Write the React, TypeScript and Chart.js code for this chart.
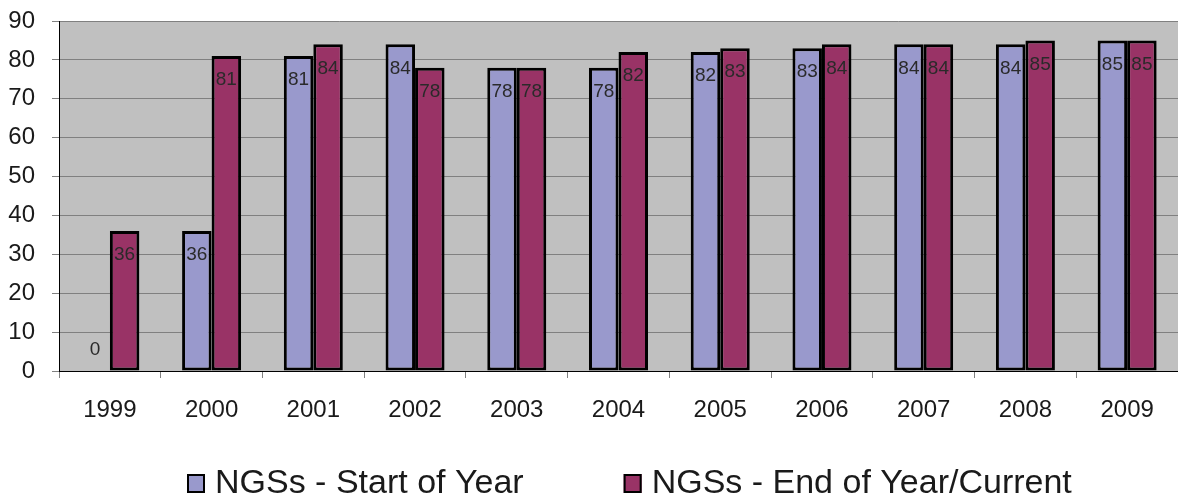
import React, { useEffect, useRef } from "react";
import { Chart, registerables } from "chart.js";

Chart.register(...registerables);

const categories = ["1999", "2000", "2001", "2002", "2003", "2004", "2005", "2006", "2007", "2008", "2009"];
const startOfYear = [0, 36, 81, 84, 78, 78, 82, 83, 84, 84, 85];
const endOfYear = [36, 81, 84, 78, 78, 82, 83, 84, 84, 85, 85];
const seriesNames = ["NGSs - Start of Year", "NGSs - End of Year/Current"];
const seriesColors = ["#9999CC", "#993366"];

const FONT = "'Liberation Sans', Arial, sans-serif";

const bgPlugin = {
  id: "plotBg",
  beforeDraw(chart: any) {
    const { ctx, chartArea } = chart;
    ctx.save();
    ctx.fillStyle = "#C0C0C0";
    ctx.fillRect(chartArea.left, chartArea.top, chartArea.right - chartArea.left, chartArea.bottom - chartArea.top);
    ctx.restore();
  },
};

const labelPlugin = {
  id: "barLabels",
  afterDatasetsDraw(chart: any) {
    const { ctx } = chart;
    ctx.save();
    ctx.font = `19px ${FONT}`;
    ctx.fillStyle = "#2a2a2a";
    ctx.textAlign = "center";
    ctx.textBaseline = "middle";
    chart.data.datasets.forEach((ds: any, di: number) => {
      const meta = chart.getDatasetMeta(di);
      meta.data.forEach((bar: any, i: number) => {
        const v = ds.data[i];
        const y = v > 0 ? bar.y + 24 : bar.base - 21;
        ctx.fillText(String(v), bar.x, y);
      });
    });
    ctx.restore();
  },
};

const legendPlugin = {
  id: "customLegend",
  afterDraw(chart: any) {
    const { ctx } = chart;
    ctx.save();
    ctx.font = `34px ${FONT}`;
    ctx.textBaseline = "middle";
    ctx.textAlign = "left";
    let x = 187;
    const cy = 483;
    seriesNames.forEach((name, i) => {
      ctx.fillStyle = seriesColors[i];
      ctx.fillRect(x, cy - 9, 18, 19);
      ctx.strokeStyle = "#000";
      ctx.lineWidth = 2;
      ctx.strokeRect(x + 1, cy - 8, 16, 17);
      ctx.fillStyle = "#1a1a1a";
      ctx.fillText(name, x + 28, cy + 1);
      x += 28 + ctx.measureText(name).width + 100;
    });
    ctx.restore();
  },
};

export default function App() {
  const ref = useRef<HTMLCanvasElement>(null);
  useEffect(() => {
    document.body.style.margin = "0";
    const chart = new Chart(ref.current!, {
      type: "bar",
      data: {
        labels: categories,
        datasets: [
          {
            label: seriesNames[0],
            data: startOfYear,
            backgroundColor: seriesColors[0],
            borderColor: "#000",
            borderWidth: 3,
            borderSkipped: false,
            barPercentage: 1,
            categoryPercentage: 0.58,
          },
          {
            label: seriesNames[1],
            data: endOfYear,
            backgroundColor: seriesColors[1],
            borderColor: "#000",
            borderWidth: 3,
            borderSkipped: false,
            barPercentage: 1,
            categoryPercentage: 0.58,
          },
        ],
      },
      options: {
        animation: false,
        responsive: true,
        maintainAspectRatio: false,
        layout: { padding: { top: 21, left: 0, right: 0, bottom: 0 } },
        plugins: { legend: { display: false }, tooltip: { enabled: false } },
        scales: {
          x: {
            grid: {
              display: true,
              drawOnChartArea: false,
              drawTicks: true,
              tickLength: 7,
              offset: true,
              color: "#808080",
            },
            border: { display: true, color: "#000", width: 1 },
            ticks: { font: { family: FONT, size: 24 }, color: "#1a1a1a", padding: 18, maxRotation: 0 },
            afterFit(scale: any) {
              scale.height = 127;
              scale.paddingLeft = 0;
              scale.paddingRight = 0;
            },
          },
          y: {
            min: 0,
            max: 90,
            ticks: { stepSize: 10, font: { family: FONT, size: 24 }, color: "#1a1a1a", padding: 17 },
            grid: { color: "#808080", tickLength: 7, lineWidth: 1 },
            border: { display: true, color: "#000", width: 1 },
            afterFit(scale: any) {
              scale.width = 59;
              scale.paddingTop = 0;
              scale.paddingBottom = 0;
            },
          },
        },
      },
      plugins: [bgPlugin, labelPlugin, legendPlugin],
    });
    return () => chart.destroy();
  }, []);
  return (
    <div style={{ position: "relative", width: "1178px", height: "498px" }}>
      <canvas ref={ref} />
    </div>
  );
}
